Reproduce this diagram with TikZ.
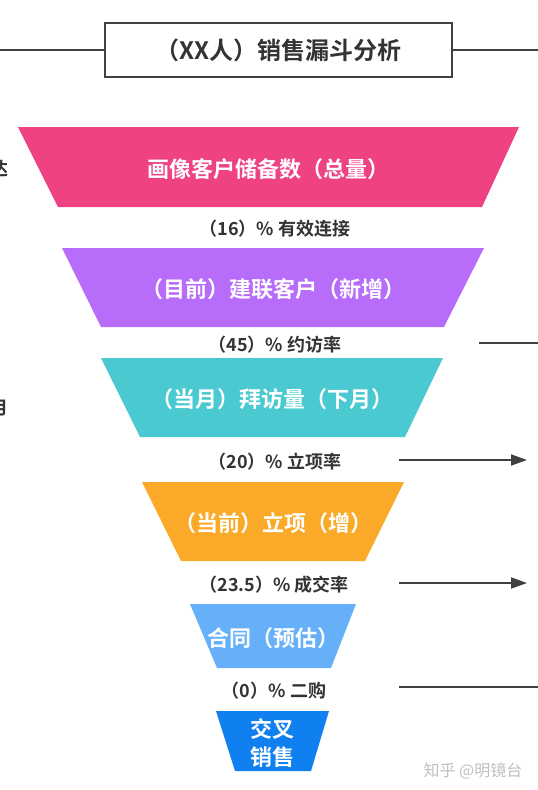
\documentclass[tikz,border=0pt]{standalone}
\usepackage{fontspec}
\setmainfont{Noto Sans CJK SC}[BoldFont={Noto Sans CJK SC Bold}]
\usetikzlibrary{arrows.meta}

\tikzset{
    funnelText/.style={text=white, font=\bfseries\fontsize{22}{28}\selectfont, align=center, inner sep=0pt},
    rateText/.style={text=textColour, font=\bfseries\fontsize{18}{22}\selectfont, inner sep=0pt},
    guideLine/.style={draw=lineColour, line width=1.8pt},
    guideArrow/.style={guideLine, -{Triangle[length=16pt,width=11pt]}}
}

\begin{document}
\begin{tikzpicture}[x=1pt, y=-1pt]
    % Define canvas size
    \def\canvasW{538}
    \def\canvasH{790}

    \definecolor{lineColour}{HTML}{404040}
    \definecolor{textColour}{HTML}{333333}
    \definecolor{pinkColour}{HTML}{EE4283}
    \definecolor{purpleColour}{HTML}{B76CFA}
    \definecolor{tealColour}{HTML}{4ACAD0}
    \definecolor{orangeColour}{HTML}{FAAA28}
    \definecolor{skyColour}{HTML}{66B0FA}
    \definecolor{blueColour}{HTML}{1080F0}

    % Fix the canvas
    \useasboundingbox (0,0) rectangle (\canvasW,\canvasH);
    \clip (0,0) rectangle (\canvasW,\canvasH);

    % Draw title box
    \node[draw=lineColour, line width=1.8pt, minimum width=347pt, minimum height=54pt, inner sep=0pt,
          text=textColour, font=\bfseries\fontsize{24}{29}\selectfont] (title) at (278.5,50) {（XX人）销售漏斗分析};
    \coordinate (titleL) at (0,50);
    \coordinate (titleR) at (\canvasW,50);
    \draw[guideLine] (titleL) -- (title.west);
    \draw[guideLine] (title.east) -- (titleR);

    % Draw funnel levels
    \foreach \lvl/\yt/\yb/\tl/\tr/\bl/\br/\col/\txt in {
        stock/127/207/18/519/58/482/pinkColour/画像客户储备数（总量）,
        contact/248/327/62/484/101/444/purpleColour/（目前）建联客户（新增）,
        visit/358/437/101/443/140/405/tealColour/（当月）拜访量（下月）,
        project/482/561/142/404/181/365/orangeColour/（当前）立项（增）,
        contract/604/668/190/356/217/331/skyColour/合同（预估）,
        cross/711/771/216/329/235/311/blueColour/{交叉\\销售}}
    {
        \fill[\col] (\tl,\yt) -- (\tr,\yt) -- (\br,\yb) -- (\bl,\yb) -- cycle;
        \node[funnelText] (\lvl) at ({(\tl+\tr)/2},{(\yt+\yb)/2+2}) {\txt};
    }

    % Label conversion rates
    \node[rateText] (rateA) at (275,229) {（16）\% 有效连接};
    \node[rateText] (rateB) at (275,345) {（45）\% 约访率};
    \node[rateText] (rateC) at (275,462) {（20）\% 立项率};
    \node[rateText] (rateD) at (274,585) {（23.5）\% 成交率};
    \node[rateText] (rateE) at (274,691) {（0）\% 二购};

    % Side lines and arrows
    \coordinate (sideB1) at (479,343);
    \coordinate (sideB2) at (\canvasW,343);
    \coordinate (sideC1) at (399,460);
    \coordinate (sideC2) at (527,460);
    \coordinate (sideD1) at (399,583);
    \coordinate (sideD2) at (527,583);
    \coordinate (sideE1) at (399,687);
    \coordinate (sideE2) at (\canvasW,687);
    \draw[guideLine] (sideB1) -- (sideB2);
    \draw[guideArrow] (sideC1) -- (sideC2);
    \draw[guideArrow] (sideD1) -- (sideD2);
    \draw[guideLine] (sideE1) -- (sideE2);

    % Cut-off text at the left edge
    \node[rateText, anchor=east] (edgeA) at (9,169) {达};
    \node[rateText, anchor=east] (edgeB) at (9,408) {月};

    % Source mark
    \node[text=black!25, font=\fontsize{16}{19}\selectfont, inner sep=0pt] (credit) at (473,771) {知乎 @明镜台};

\end{tikzpicture}
\end{document}
